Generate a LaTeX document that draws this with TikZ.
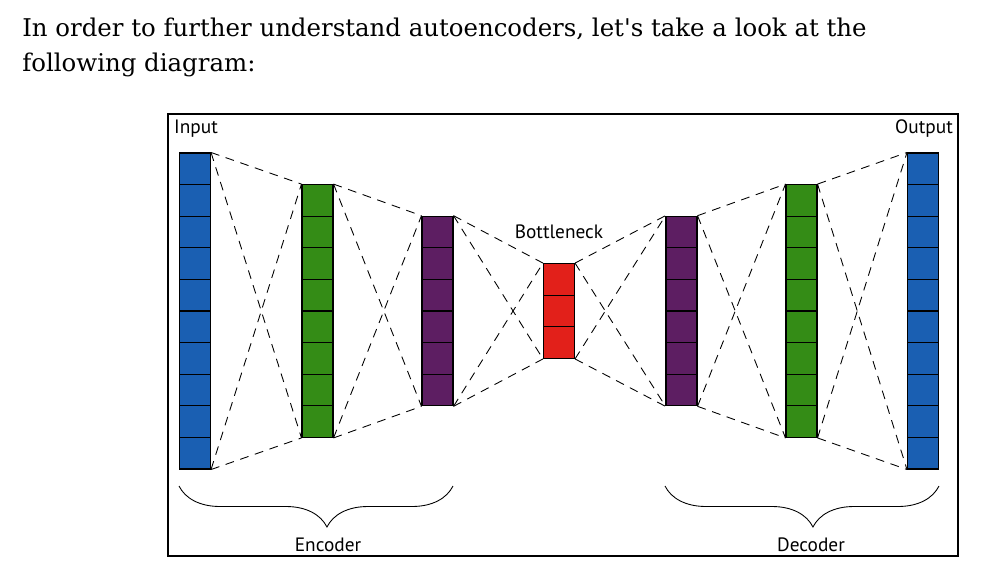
\documentclass[tikz,border=0pt]{standalone}
\usepackage{fontspec}
\setmainfont{DejaVu Serif}
\newfontfamily\labelfont{PT Sans}
\usetikzlibrary{decorations.pathreplacing}
\definecolor{inblue}{RGB}{26,95,178}
\definecolor{midgreen}{RGB}{52,140,22}
\definecolor{deeppurple}{RGB}{93,30,98}
\definecolor{neckred}{RGB}{226,32,26}
\tikzset{
  cell/.style={draw=black, line width=0.6pt, inner sep=0pt, minimum width=0.62cm, minimum height=0.632cm},
  link/.style={dash pattern=on 5pt off 3.8pt, line width=0.5pt},
  curly/.style={decorate, decoration={brace, mirror, amplitude=0.82cm, aspect=0.54}, line width=0.5pt},
  lbl/.style={font=\labelfont\fontsize{11}{13}\selectfont, inner sep=0pt}
}
\begin{document}
\begin{tikzpicture}[x=0.02cm, y=-0.02cm]
\useasboundingbox (0,0) rectangle (1007,572);
\node[anchor=base west, inner sep=0pt, font=\fontsize{13.9}{17}\selectfont] (line1) at (22,36) {In order to further understand autoencoders, let\textquotesingle s take a look at the};
\node[anchor=base west, inner sep=0pt, font=\fontsize{13.9}{17}\selectfont] (line2) at (22,71) {following diagram:};
\draw[line width=1.3pt] (168,114) rectangle (958,556);
% layers, top cell first
\foreach \name/\x/\n/\col in {in/195/10/inblue, ga/317.5/8/midgreen, pa/437.5/6/deeppurple, bn/559/3/neckred, pb/681.5/6/deeppurple, gb/801.5/8/midgreen, out/923/10/inblue}
  \foreach \i in {1,...,\n}
    \node[cell, fill=\col] (\name\i) at (\x, {311-15.8*(\n+1)+31.6*\i}) {};
% dashed links between neighbouring layers
\foreach \p/\np/\q/\nq in {in/10/ga/8, ga/8/pa/6, pa/6/bn/3, bn/3/pb/6, pb/6/gb/8, gb/8/out/10} {
  \draw[link] (\p1.north east) -- (\q1.north west);
  \draw[link] (\p1.north east) -- (\q\nq.south west);
  \draw[link] (\p\np.south east) -- (\q1.north west);
  \draw[link] (\p\np.south east) -- (\q\nq.south west);
}
\node[lbl] (inlabel) at (196,129) {Input};
\node[lbl] (outlabel) at (924,129) {Output};
\node[lbl] (necklabel) at (559,232) {Bottleneck};
\draw[curly] (179,486) -- (453,486);
\draw[curly] (665,486) -- (939,486);
\node[lbl] (enclabel) at (328,545) {Encoder};
\node[lbl] (declabel) at (811,545) {Decoder};
\end{tikzpicture}
\end{document}
